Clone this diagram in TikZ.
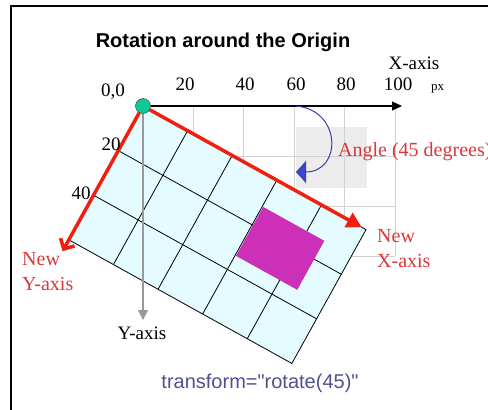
\documentclass[tikz,border=0pt]{standalone}
\usepackage{fontspec}
\setmainfont{Liberation Serif}
\setsansfont{Liberation Sans}
\newfontfamily\codefont{Liberation Sans}
\usetikzlibrary{arrows.meta}
\definecolor{newred}{HTML}{F02010}
\definecolor{labelred}{HTML}{D83838}
\definecolor{cellcyan}{HTML}{E4FCFF}
\definecolor{boxmagenta}{HTML}{CC30B8}
\definecolor{origingreen}{HTML}{10C898}
\definecolor{arcblue}{HTML}{3840A0}
\definecolor{headblue}{HTML}{3848D0}
\definecolor{codeblue}{HTML}{505090}
\tikzset{
  oldgrid/.style={draw=gray!35, line width=0.8pt},
  newgrid/.style={draw=black, line width=0.8pt},
  newaxis/.style={draw=newred, line width=3.5pt},
  lbl/.style={font=\fontsize{19}{24}\selectfont, inner sep=0pt},
  redlbl/.style={lbl, text=labelred, align=left, font=\fontsize{20}{25}\selectfont},
}

\begin{document}
\begin{tikzpicture}[x=1pt, y=-1pt]
  \useasboundingbox (0,0) rectangle (488,410);
  % frame
  \draw[line width=1.8pt] (11,410) -- (11,6) -- (488,6);
  % title
  \node[font=\sffamily\bfseries\fontsize{20}{24}\selectfont] (title) at (223,42) {Rotation around the Origin};
  % original square
  \fill[gray!15] (296,127) rectangle (367,188);
  % original grid
  \foreach \i in {1,...,5} \draw[oldgrid] (143+50.4*\i,106) -- (143+50.4*\i,256);
  \foreach \j in {1,2,3} \draw[oldgrid] (143,106+50*\j) -- (395,106+50*\j);
  % rotated grid
  \begin{scope}[shift={(143,106)}, rotate=-29]
    \filldraw[fill=cellcyan, newgrid] (0,0) rectangle (255,153);
    \foreach \i in {1,...,4} \draw[newgrid] (51*\i,0) -- (51*\i,153);
    \foreach \j in {1,2} \draw[newgrid] (0,51*\j) -- (255,51*\j);
    \fill[boxmagenta] (154,30) rectangle (224,86);
    \coordinate (nx) at (250,0);
    \coordinate (ny) at (0,166);
  \end{scope}
  % origin
  \node[circle, draw=black!80, fill=origingreen, minimum size=15pt, inner sep=0pt] (O) at (143,106) {};
  \coordinate (xend) at (402,106);
  \coordinate (yend) at (143,320);
  % old axes
  \draw[line width=1.2pt, -{Triangle[length=10pt,width=9pt]}] (O) -- (xend);
  \draw[draw=gray!80, line width=1.2pt, -{Triangle[length=10pt,width=10pt]}] (O) -- (yend);
  % new axes
  \draw[newaxis, -{Triangle[length=15pt,width=16pt]}] (O) -- (nx);
  \draw[newaxis, -{Straight Barb[length=8pt,width=16pt]}] (O) -- (ny);
  % angle arc
  \coordinate (a0) at (296,106);
  \coordinate (a1) at (296,172);
  \draw[arcblue, line width=1pt, -{Triangle[length=10pt,width=22pt,fill=headblue]}] (a0) .. controls (342,110) and (342,172) .. (a1);
  % labels
  \node[lbl] (zero) at (113,92) {0,0};
  \foreach \v/\x in {20/185,40/245,60/296,80/346,100/398}
    \node[lbl] (tx\v) at (\x,84) {\v};
  \node[lbl, font=\fontsize{13}{15}\selectfont, anchor=base west] (px) at (431,90) {px};
  \node[lbl] (xlabel) at (414,63) {X-axis};
  \node[lbl] (ty20) at (111,144) {20};
  \node[lbl] (ty40) at (81,193) {40};
  \node[lbl] (ylabel) at (142,333) {Y-axis};
  \node[redlbl, anchor=west] (angle) at (338,152) {Angle (45 degrees)};
  \node[redlbl, anchor=north west] (newx) at (377,229) {New\\X-axis};
  \node[redlbl, anchor=north west] (newy) at (22,252) {New\\Y-axis};
  \node[font=\codefont\fontsize{20}{24}\selectfont, text=codeblue] (code) at (260,383) {transform="rotate(45)"};
\end{tikzpicture}
\end{document}
